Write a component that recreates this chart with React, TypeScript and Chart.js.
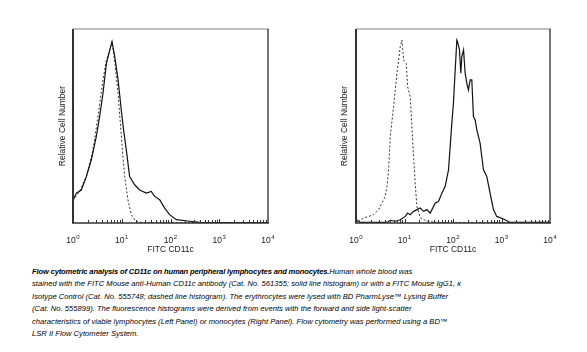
import React, { useEffect, useRef } from "react";
import { Chart, registerables } from "chart.js";

Chart.register(...registerables);

const tickValues = [1, 10, 100, 1000, 10000];
const tickBase = "10";
const tickExponents = ["0", "1", "2", "3", "4"];
const xTitle = "FITC CD11c";
const yTitle = "Relative Cell Number";

// Left panel: lymphocytes
const lymphSolidX = [1, 1.02, 1.17, 1.48, 1.88, 2.38, 3.01, 3.52, 4.13, 4.83, 5.65, 6.31, 7.16, 8.38, 9.8, 10.9, 12.4, 14.5, 18.4, 23.3, 31.9, 40.4, 47.3, 60, 75.9, 96, 132, 247, 398, 10000];
const lymphSolidY = [60, 12, 15.4, 17, 24, 32.6, 44.6, 55, 67, 82, 89, 93.5, 86, 74, 58, 48, 37.7, 24, 19.7, 17, 15.4, 16.3, 13.7, 12, 7.7, 4.3, 1.7, 0.9, 0.3, 0.2];
const lymphIsoX = [1, 1.02, 1.37, 1.88, 2.57, 3.26, 4.13, 4.83, 5.65, 6.31, 7.38, 8.38, 9.35, 10.3, 11.5, 13.4, 15.7, 19.3, 27.3, 10000];
const lymphIsoY = [60, 12, 16.3, 24, 37.7, 55, 73.8, 84, 89, 93.5, 81, 67, 51.5, 37.7, 24, 12, 4.3, 0.9, 0.2, 0.2];

// Right panel: monocytes
const monoSolidX = [1, 1.23, 4.35, 5.09, 6.45, 8.18, 10.4, 11.6, 13.1, 15.4, 18.0, 21.1, 24.7, 28.9, 33.9, 43.0, 50.3, 58.9, 69.0, 80.8, 94.6, 102, 111, 120, 124, 136, 145, 152, 165, 178, 193, 208, 226, 244, 264, 286, 310, 362, 425, 497, 582, 682, 798, 1096, 1503, 10000];
const monoSolidY = [1.7, 0.3, 0.3, 1.4, 0.9, 1.7, 3.4, 5.1, 4.3, 6.0, 6.9, 7.7, 6.0, 6.9, 5.1, 10.3, 11.1, 15.4, 18.9, 27.4, 51.5, 61.7, 78.9, 94.3, 93.5, 89.2, 77.2, 85.8, 89.2, 77.2, 72, 68.6, 73.8, 73.8, 54.9, 53.2, 48, 41.2, 27.4, 24, 15.4, 6.9, 3.4, 2.1, 0.3, 0.3];
const monoIsoX = [1, 1.03, 1.13, 1.44, 1.82, 2.31, 2.93, 3.43, 4.01, 4.35, 4.7, 5.09, 5.96, 6.98, 8.18, 8.85, 9.58, 10.9, 11.6, 13.1, 14.2, 15.4, 16.6, 18.0, 21.1, 28.9, 46.5, 10000];
const monoIsoY = [17.2, 2, 0.9, 2.6, 3.4, 4.3, 6.9, 10.3, 13.7, 18.9, 27.4, 44.6, 60, 77.2, 90.9, 94.3, 84, 82.3, 70.3, 65.2, 49.7, 34.3, 20.6, 8.6, 2.6, 0.9, 0.3, 0.3];

const FONT = '"Liberation Sans", Arial, sans-serif';

const framePlugin = {
  id: "frame",
  afterDraw(chart: any) {
    const { ctx, chartArea } = chart;
    const { left, right, top, bottom } = chartArea;
    const xs = chart.scales.x;
    ctx.save();
    ctx.strokeStyle = "#333";
    ctx.lineWidth = 1;
    for (let e = 0; e < 4; e++) {
      for (let m = 1; m <= 9; m++) {
        const v = m * Math.pow(10, e);
        const px = Math.round(xs.getPixelForValue(v)) + 0.5;
        const len = m === 1 ? 4 : 3;
        ctx.beginPath();
        ctx.moveTo(px, bottom);
        ctx.lineTo(px, bottom - len);
        ctx.stroke();
      }
    }
    const seg = (x1: number, y1: number, x2: number, y2: number, c: string, w: number) => {
      ctx.strokeStyle = c;
      ctx.lineWidth = w;
      ctx.beginPath();
      ctx.moveTo(x1, y1);
      ctx.lineTo(x2, y2);
      ctx.stroke();
    };
    seg(left, top, right + 1, top, "#aaa", 1.5);
    seg(right, top, right, bottom, "#444", 1.5);
    seg(left - 1, bottom, right + 1, bottom, "#333", 1.5);
    seg(left, top, left, bottom, "#333", 2);

    // decade tick labels: "10" with a raised exponent
    ctx.fillStyle = "#222";
    ctx.textBaseline = "alphabetic";
    ctx.textAlign = "left";
    const baseFont = `8.5px ${FONT}`;
    const expFont = `6px ${FONT}`;
    tickValues.forEach((v, i) => {
      const px = xs.getPixelForValue(v);
      ctx.font = baseFont;
      const wb = ctx.measureText(tickBase).width;
      ctx.font = expFont;
      const we = ctx.measureText(tickExponents[i]).width;
      const x0 = px - (wb + we + 0.5) / 2;
      ctx.font = baseFont;
      ctx.fillText(tickBase, x0, bottom + 20);
      ctx.font = expFont;
      ctx.fillText(tickExponents[i], x0 + wb + 0.5, bottom + 16);
    });
    ctx.restore();
  },
};

function makeConfig(sx: number[], sy: number[], ix: number[], iy: number[], padLeft: number, yWidth: number, padRight: number, height: number): any {
  return {
    type: "line",
    data: {
      datasets: [
        {
          data: sx.map((x, i) => ({ x, y: sy[i] })),
          borderColor: "#111",
          borderWidth: 1.2,
          pointRadius: 0,
          tension: 0,
          fill: false,
        },
        {
          data: ix.map((x, i) => ({ x, y: iy[i] })),
          borderColor: "#333",
          borderWidth: 1,
          borderDash: [2, 2],
          pointRadius: 0,
          tension: 0,
          fill: false,
        },
      ],
    },
    options: {
      animation: false,
      responsive: false,
      devicePixelRatio: 1,
      layout: { padding: { left: padLeft, top: 29, right: padRight, bottom: 0 } },
      plugins: { legend: { display: false }, tooltip: { enabled: false } },
      scales: {
        x: {
          type: "logarithmic",
          min: 1,
          max: 10000,
          grid: { display: false, drawTicks: false },
          border: { display: false },
          afterBuildTicks: (s: any) => {
            s.ticks = tickValues.map((v) => ({ value: v }));
          },
          ticks: { display: false },
          title: {
            display: true,
            text: xTitle,
            color: "#222",
            font: { family: FONT, size: 8.5 },
            padding: { top: 0, bottom: 7.5 },
          },
          afterFit: (s: any) => {
            s.height = height - 223;
          },
        },
        y: {
          min: 0,
          max: 100,
          ticks: { display: false },
          grid: { display: false, drawTicks: false },
          border: { display: false },
          title: {
            display: true,
            text: yTitle,
            color: "#222",
            font: { family: FONT, size: 8.5 },
            padding: 0,
          },
          afterFit: (s: any) => {
            s.width = yWidth;
          },
        },
      },
    },
    plugins: [framePlugin],
  };
}

function Panel(props: { left: number; width: number; height: number; cfg: any }) {
  const ref = useRef<HTMLCanvasElement | null>(null);
  useEffect(() => {
    if (!ref.current) return;
    const chart = new Chart(ref.current, props.cfg);
    return () => chart.destroy();
  }, []);
  return (
    <canvas
      ref={ref}
      width={props.width}
      height={props.height}
      style={{ position: "absolute", left: props.left, top: 0, width: props.width, height: props.height }}
    />
  );
}

export default function App() {
  const H = 262;
  const leftCfg = makeConfig(lymphSolidX, lymphSolidY, lymphIsoX, lymphIsoY, 58, 15, 293 - 268, H);
  const rightCfg = makeConfig(monoSolidX, monoSolidY, monoIsoX, monoIsoY, 47, 16, 294 - 257, H);
  return (
    <div style={{ position: "absolute", left: 0, top: 0, width: 587, height: 352, background: "#fff", overflow: "hidden" }}>
      <Panel left={0} width={293} height={H} cfg={leftCfg} />
      <Panel left={293} width={294} height={H} cfg={rightCfg} />
      <div
        style={{
          position: "absolute",
          left: 32,
          top: 266,
          fontFamily: FONT,
          fontStyle: "italic",
          fontSize: 7.6,
          lineHeight: "12.45px",
          letterSpacing: "0.02px",
          color: "#000",
          whiteSpace: "nowrap",
        }}
      >
        <b style={{ letterSpacing: "-0.16px" }}>Flow cytometric analysis of CD11c on human peripheral lymphocytes and monocytes.</b>Human whole blood was
        <br />
        stained with the FITC Mouse anti-Human CD11c antibody (Cat. No. 561355; solid line histogram) or with a FITC Mouse IgG1, κ
        <br />
        Isotype Control (Cat. No. 555748; dashed line histogram). The erythrocytes were lysed with BD PharmLyse™ Lysing Buffer
        <br />
        (Cat. No. 555899). The fluorescence histograms were derived from events with the forward and side light-scatter
        <br />
        characteristics of viable lymphocytes (Left Panel) or monocytes (Right Panel). Flow cytometry was performed using a BD™
        <br />
        LSR II Flow Cytometer System.
      </div>
    </div>
  );
}
